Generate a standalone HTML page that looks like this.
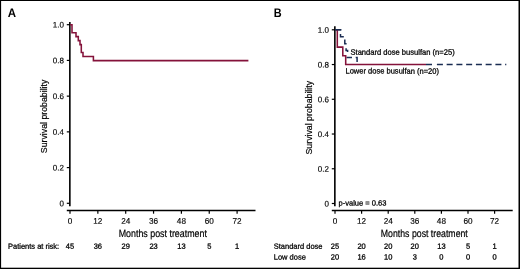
<!DOCTYPE html>
<html><head><meta charset="utf-8"><title>Figure</title>
<style>
html,body{margin:0;padding:0;background:#fff;}
body{width:520px;height:269px;overflow:hidden;position:relative;}
svg{display:block;position:absolute;left:0;top:0;font-family:"Liberation Sans",sans-serif;fill:#000;}
text{stroke:#000;stroke-width:0.3px;}
text.l{stroke-width:0.15px;}
text.m{stroke-width:0.2px;}
text.b{stroke-width:0;}
text.n{stroke-width:0.26px;}
</style></head><body>
<svg width="520" height="269" viewBox="0 0 520 269">
<rect x="0" y="0" width="520" height="269" fill="#fff"/>
<rect x="0" y="0" width="520" height="1" fill="#000"/>
<rect x="0" y="0" width="1.1" height="269" fill="#000"/>
<rect x="518.5" y="0" width="1.5" height="269" fill="#000"/>
<rect x="0" y="267.7" width="520" height="1.3" fill="#000"/>
<path d="M69.85,22 V206.3" stroke="#000" stroke-width="1.6" fill="none"/>
<path d="M66.8,210.5 H255.5" stroke="#000" stroke-width="1.4" fill="none"/>
<path d="M66.8,24.70 H70" stroke="#000" stroke-width="1.2" fill="none"/>
<text x="63.9" y="27.6" transform="rotate(0.03 63.9 27.6)" font-size="8.0" text-anchor="end" class="l">1.0</text>
<path d="M66.8,60.42 H70" stroke="#000" stroke-width="1.2" fill="none"/>
<text x="63.9" y="63.32" transform="rotate(0.03 63.9 63.32)" font-size="8.0" text-anchor="end" class="l">0.8</text>
<path d="M66.8,96.14 H70" stroke="#000" stroke-width="1.2" fill="none"/>
<text x="63.9" y="99.04" transform="rotate(0.03 63.9 99.04)" font-size="8.0" text-anchor="end" class="l">0.6</text>
<path d="M66.8,131.86 H70" stroke="#000" stroke-width="1.2" fill="none"/>
<text x="63.9" y="134.76" transform="rotate(0.03 63.9 134.76)" font-size="8.0" text-anchor="end" class="l">0.4</text>
<path d="M66.8,167.58 H70" stroke="#000" stroke-width="1.2" fill="none"/>
<text x="63.9" y="170.48" transform="rotate(0.03 63.9 170.48)" font-size="8.0" text-anchor="end" class="l">0.2</text>
<path d="M66.8,203.30 H70" stroke="#000" stroke-width="1.2" fill="none"/>
<text x="63.9" y="206.2" transform="rotate(0.03 63.9 206.2)" font-size="8.0" text-anchor="end" class="l">0</text>
<path d="M70.00,210.5 V213.7" stroke="#000" stroke-width="1.2" fill="none"/>
<text x="70.0" y="223.8" transform="rotate(0.03 70.0 223.8)" font-size="8.2" text-anchor="middle" class="l">0</text>
<path d="M97.85,210.5 V213.7" stroke="#000" stroke-width="1.2" fill="none"/>
<text x="97.85" y="223.8" transform="rotate(0.03 97.85 223.8)" font-size="8.2" text-anchor="middle" class="l">12</text>
<path d="M125.70,210.5 V213.7" stroke="#000" stroke-width="1.2" fill="none"/>
<text x="125.7" y="223.8" transform="rotate(0.03 125.7 223.8)" font-size="8.2" text-anchor="middle" class="l">24</text>
<path d="M153.55,210.5 V213.7" stroke="#000" stroke-width="1.2" fill="none"/>
<text x="153.55" y="223.8" transform="rotate(0.03 153.55 223.8)" font-size="8.2" text-anchor="middle" class="l">36</text>
<path d="M181.40,210.5 V213.7" stroke="#000" stroke-width="1.2" fill="none"/>
<text x="181.4" y="223.8" transform="rotate(0.03 181.4 223.8)" font-size="8.2" text-anchor="middle" class="l">48</text>
<path d="M209.25,210.5 V213.7" stroke="#000" stroke-width="1.2" fill="none"/>
<text x="209.25" y="223.8" transform="rotate(0.03 209.25 223.8)" font-size="8.2" text-anchor="middle" class="l">60</text>
<path d="M237.10,210.5 V213.7" stroke="#000" stroke-width="1.2" fill="none"/>
<text x="237.1" y="223.8" transform="rotate(0.03 237.1 223.8)" font-size="8.2" text-anchor="middle" class="l">72</text>
<path d="M334.85,26.3 V206.2" stroke="#000" stroke-width="1.6" fill="none"/>
<path d="M331.8,210.5 H512.7" stroke="#000" stroke-width="1.4" fill="none"/>
<path d="M331.8,29.80 H335" stroke="#000" stroke-width="1.2" fill="none"/>
<text x="328.9" y="32.7" transform="rotate(0.03 328.9 32.7)" font-size="8.0" text-anchor="end" class="l">1.0</text>
<path d="M331.8,64.54 H335" stroke="#000" stroke-width="1.2" fill="none"/>
<text x="328.9" y="67.44" transform="rotate(0.03 328.9 67.44)" font-size="8.0" text-anchor="end" class="l">0.8</text>
<path d="M331.8,99.28 H335" stroke="#000" stroke-width="1.2" fill="none"/>
<text x="328.9" y="102.18" transform="rotate(0.03 328.9 102.18)" font-size="8.0" text-anchor="end" class="l">0.6</text>
<path d="M331.8,134.02 H335" stroke="#000" stroke-width="1.2" fill="none"/>
<text x="328.9" y="136.92" transform="rotate(0.03 328.9 136.92)" font-size="8.0" text-anchor="end" class="l">0.4</text>
<path d="M331.8,168.76 H335" stroke="#000" stroke-width="1.2" fill="none"/>
<text x="328.9" y="171.66" transform="rotate(0.03 328.9 171.66)" font-size="8.0" text-anchor="end" class="l">0.2</text>
<path d="M331.8,203.50 H335" stroke="#000" stroke-width="1.2" fill="none"/>
<text x="328.9" y="206.4" transform="rotate(0.03 328.9 206.4)" font-size="8.0" text-anchor="end" class="l">0</text>
<path d="M335.00,210.5 V213.7" stroke="#000" stroke-width="1.2" fill="none"/>
<text x="335.0" y="223.8" transform="rotate(0.03 335.0 223.8)" font-size="8.2" text-anchor="middle" class="l">0</text>
<path d="M361.60,210.5 V213.7" stroke="#000" stroke-width="1.2" fill="none"/>
<text x="361.6" y="223.8" transform="rotate(0.03 361.6 223.8)" font-size="8.2" text-anchor="middle" class="l">12</text>
<path d="M388.20,210.5 V213.7" stroke="#000" stroke-width="1.2" fill="none"/>
<text x="388.2" y="223.8" transform="rotate(0.03 388.2 223.8)" font-size="8.2" text-anchor="middle" class="l">24</text>
<path d="M414.80,210.5 V213.7" stroke="#000" stroke-width="1.2" fill="none"/>
<text x="414.8" y="223.8" transform="rotate(0.03 414.8 223.8)" font-size="8.2" text-anchor="middle" class="l">36</text>
<path d="M441.40,210.5 V213.7" stroke="#000" stroke-width="1.2" fill="none"/>
<text x="441.4" y="223.8" transform="rotate(0.03 441.4 223.8)" font-size="8.2" text-anchor="middle" class="l">48</text>
<path d="M468.00,210.5 V213.7" stroke="#000" stroke-width="1.2" fill="none"/>
<text x="468.0" y="223.8" transform="rotate(0.03 468.0 223.8)" font-size="8.2" text-anchor="middle" class="l">60</text>
<path d="M494.60,210.5 V213.7" stroke="#000" stroke-width="1.2" fill="none"/>
<text x="494.6" y="223.8" transform="rotate(0.03 494.6 223.8)" font-size="8.2" text-anchor="middle" class="l">72</text>
<text x="7.8" y="17.1" transform="rotate(0.03 7.8 17.1)" font-size="12.4" textLength="8.3" lengthAdjust="spacingAndGlyphs" font-weight="bold" class="b">A</text>
<text x="273.7" y="17.1" transform="rotate(0.03 273.7 17.1)" font-size="12.4" textLength="7.9" lengthAdjust="spacingAndGlyphs" font-weight="bold" class="b">B</text>
<text x="118.7" y="237.3" transform="rotate(0.03 118.7 237.3)" font-size="10.5" textLength="88.2" lengthAdjust="spacingAndGlyphs" class="m">Months post treatment</text>
<text x="380.8" y="237.3" transform="rotate(0.03 380.8 237.3)" font-size="10.5" textLength="87" lengthAdjust="spacingAndGlyphs" class="m">Months post treatment</text>
<text transform="translate(47.4,153.2) rotate(-90)" font-size="9.6" class="m" textLength="73.6" lengthAdjust="spacingAndGlyphs">Survival probability</text>
<text transform="translate(312.1,154.5) rotate(-90)" font-size="9.6" class="m" textLength="73.6" lengthAdjust="spacingAndGlyphs">Survival probability</text>
<text x="8" y="248.8" transform="rotate(0.03 8 248.8)" font-size="7.5" textLength="51.2" lengthAdjust="spacingAndGlyphs" class="n">Patients at risk:</text>
<text x="70.0" y="248.8" transform="rotate(0.03 70.0 248.8)" font-size="7.5" text-anchor="middle" class="n">45</text>
<text x="97.85" y="248.8" transform="rotate(0.03 97.85 248.8)" font-size="7.5" text-anchor="middle" class="n">36</text>
<text x="125.7" y="248.8" transform="rotate(0.03 125.7 248.8)" font-size="7.5" text-anchor="middle" class="n">29</text>
<text x="153.55" y="248.8" transform="rotate(0.03 153.55 248.8)" font-size="7.5" text-anchor="middle" class="n">23</text>
<text x="181.4" y="248.8" transform="rotate(0.03 181.4 248.8)" font-size="7.5" text-anchor="middle" class="n">13</text>
<text x="209.25" y="248.8" transform="rotate(0.03 209.25 248.8)" font-size="7.5" text-anchor="middle" class="n">5</text>
<text x="237.1" y="248.8" transform="rotate(0.03 237.1 248.8)" font-size="7.5" text-anchor="middle" class="n">1</text>
<text x="273.8" y="248.8" transform="rotate(0.03 273.8 248.8)" font-size="7.5" textLength="48.7" lengthAdjust="spacingAndGlyphs" class="n">Standard dose</text>
<text x="273.8" y="259.5" transform="rotate(0.03 273.8 259.5)" font-size="7.5" textLength="32" lengthAdjust="spacingAndGlyphs" class="n">Low dose</text>
<text x="335.0" y="248.8" transform="rotate(0.03 335.0 248.8)" font-size="7.5" text-anchor="middle" class="n">25</text>
<text x="361.6" y="248.8" transform="rotate(0.03 361.6 248.8)" font-size="7.5" text-anchor="middle" class="n">20</text>
<text x="388.2" y="248.8" transform="rotate(0.03 388.2 248.8)" font-size="7.5" text-anchor="middle" class="n">20</text>
<text x="414.8" y="248.8" transform="rotate(0.03 414.8 248.8)" font-size="7.5" text-anchor="middle" class="n">20</text>
<text x="441.4" y="248.8" transform="rotate(0.03 441.4 248.8)" font-size="7.5" text-anchor="middle" class="n">13</text>
<text x="468.0" y="248.8" transform="rotate(0.03 468.0 248.8)" font-size="7.5" text-anchor="middle" class="n">5</text>
<text x="494.6" y="248.8" transform="rotate(0.03 494.6 248.8)" font-size="7.5" text-anchor="middle" class="n">1</text>
<text x="335.0" y="259.5" transform="rotate(0.03 335.0 259.5)" font-size="7.5" text-anchor="middle" class="n">20</text>
<text x="361.6" y="259.5" transform="rotate(0.03 361.6 259.5)" font-size="7.5" text-anchor="middle" class="n">16</text>
<text x="388.2" y="259.5" transform="rotate(0.03 388.2 259.5)" font-size="7.5" text-anchor="middle" class="n">10</text>
<text x="414.8" y="259.5" transform="rotate(0.03 414.8 259.5)" font-size="7.5" text-anchor="middle" class="n">3</text>
<text x="441.4" y="259.5" transform="rotate(0.03 441.4 259.5)" font-size="7.5" text-anchor="middle" class="n">0</text>
<text x="468.0" y="259.5" transform="rotate(0.03 468.0 259.5)" font-size="7.5" text-anchor="middle" class="n">0</text>
<text x="494.6" y="259.5" transform="rotate(0.03 494.6 259.5)" font-size="7.5" text-anchor="middle" class="n">0</text>
<path d="M70,24.7 H72 V32.7 H76 V36.6 H78.3 V40.6 H80 V44.6 H81.3 V52.5 H83 V56.5 H93.4 V60.6 H248.4" stroke="#84123a" stroke-width="1.55" fill="none" stroke-linejoin="miter"/>
<path d="M335,29.8 H340.5 V30.4 M340.5,34 V36.7 H343.8 M344.8,39.5 V43.7 H346.6 M346.1,48.3 V50.4 H347.6 V52 M347.2,56.8 V57.5 H352 M355.7,57.5 H357.1 V62.1 M426.00,64.5 H432.00 M436.90,64.5 H442.90 M446.65,64.5 H452.65 M456.40,64.5 H462.40 M466.15,64.5 H472.15 M475.90,64.5 H481.90 M485.65,64.5 H491.65 M495.40,64.5 H501.40 M505.15,64.5 H506.30" stroke="#1a2c52" stroke-width="1.5" fill="none"/>
<path d="M335,29.8 H337.3 V47.1 H342.8 V55.7 H345.7 V64.5 H426" stroke="#84123a" stroke-width="1.55" fill="none"/>
<path d="M335,29.8 H340.5 V30.4" stroke="#1a2c52" stroke-width="1.5" fill="none"/>
<text x="350.5" y="54.8" transform="rotate(0.03 350.5 54.8)" font-size="7.8" textLength="104.2" lengthAdjust="spacingAndGlyphs" class="n">Standard dose busulfan (n=25)</text>
<text x="345.5" y="73.6" transform="rotate(0.03 345.5 73.6)" font-size="7.8" textLength="93.5" lengthAdjust="spacingAndGlyphs" class="n">Lower dose busulfan (n=20)</text>
<text x="338.5" y="205.5" transform="rotate(0.03 338.5 205.5)" font-size="7.5" textLength="48" lengthAdjust="spacingAndGlyphs" class="n">p-value = 0.63</text>
</svg>
</body></html>
